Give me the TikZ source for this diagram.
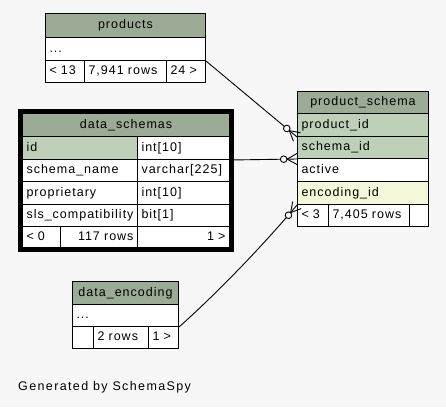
\documentclass[tikz,border=0pt]{standalone}
\usepackage{fontspec}
\setmainfont{Liberation Sans}[LetterSpace=8]
\usepackage{tikz}
\usetikzlibrary{calc,decorations.markings}
\hyphenpenalty=10000
\exhyphenpenalty=10000
\definecolor{bgcol}{HTML}{F7F7F7}
\definecolor{headcol}{HTML}{9BAB96}
\definecolor{keycol}{HTML}{BED1B8}
\definecolor{idxcol}{HTML}{F4F7DA}
\tikzstyle{cell}=[draw, anchor=north west, fill=white, line width=1pt,% one table cell
inner xsep=4pt, inner ysep=0pt, text height=9pt, text depth=3pt, align=left]
\tikzstyle{head}=[cell, fill=headcol, align=center]
\tikzstyle{key}=[cell, fill=keycol]
\tikzstyle{idx}=[cell, fill=idxcol]
\tikzstyle{num}=[cell, align=right]
\tikzstyle{fkey}=[line width=0.9pt, postaction={decorate},% crow foot and open circle at the end
decoration={markings, mark=at position 1 with {
  \draw[line width=0.9pt] (-10pt,0) -- (0,5.5pt) (-10pt,0) -- (0,-5.5pt);
  \draw[line width=0.9pt, fill=bgcol] (-13.3pt,0) circle (3.3pt);}}]
\tikzstyle{selbox}=[draw, line width=4pt]

\begin{document}
\begin{tikzpicture}[x=1pt, y=-1pt, font=\fontsize{12.5}{15}\selectfont]
\path[use as bounding box, fill=bgcol] (0,0) rectangle (446,407);
% products
\node[head, text width=152pt, minimum height=24pt] (p-head) at (45,13) {products};
\node[cell, text width=152pt, minimum height=23pt] (p-dots) at (45,37) {...};
\node[cell, text width=31pt, minimum height=22pt] (p-prev) at (45,60) {< 13};
\node[cell, text width=74pt, minimum height=22pt] (p-rows) at (84,60) {7,941 rows};
\node[cell, text width=31pt, minimum height=22pt] (p-next) at (166,60) {24 >};
% data_schemas
\node[head, text width=199pt, minimum height=23pt] (ds-head) at (22,113) {data\_schemas};
\node[key, text width=107pt, minimum height=23pt] (ds-id) at (22,136) {id};
\node[cell, text width=84pt, minimum height=23pt] (ds-idtype) at (137,136) {int[10]};
\node[cell, text width=107pt, minimum height=22pt] (ds-name) at (22,159) {schema\_name};
\node[cell, text width=84pt, minimum height=22pt] (ds-nametype) at (137,159) {varchar[225]};
\node[cell, text width=107pt, minimum height=23pt] (ds-prop) at (22,181) {proprietary};
\node[cell, text width=84pt, minimum height=23pt] (ds-proptype) at (137,181) {int[10]};
\node[cell, text width=107pt, minimum height=22pt] (ds-sls) at (22,204) {sls\_compatibility};
\node[cell, text width=84pt, minimum height=22pt] (ds-slstype) at (137,204) {bit[1]};
\node[cell, text width=30pt, minimum height=21pt] (ds-prev) at (22,226) {< 0};
\node[num, text width=69pt, minimum height=21pt] (ds-rows) at (60,226) {117 rows};
\node[num, text width=84pt, minimum height=21pt] (ds-next) at (137,226) {1 >};
% product_schema
\node[head, text width=123pt, minimum height=22pt] (ps-head) at (297,91) {product\_schema};
\node[key, text width=123pt, minimum height=23pt] (ps-pid) at (297,113) {product\_id};
\node[key, text width=123pt, minimum height=22pt] (ps-sid) at (297,136) {schema\_id};
\node[cell, text width=123pt, minimum height=23pt] (ps-act) at (297,158) {active};
\node[idx, text width=123pt, minimum height=23pt] (ps-enc) at (297,181) {encoding\_id};
\node[cell, text width=23pt, minimum height=22pt] (ps-prev) at (297,204) {< 3};
\node[cell, text width=73pt, minimum height=22pt] (ps-rows) at (328,204) {7,405 rows};
\node[cell, text width=11pt, minimum height=22pt] (ps-next) at (409,204) {};
% data_encoding
\node[head, text width=98pt, minimum height=23pt] (de-head) at (72,281) {data\_encoding};
\node[cell, text width=98pt, minimum height=22pt] (de-dots) at (72,304) {...};
\node[cell, text width=13pt, minimum height=22pt] (de-prev) at (72,326) {};
\node[cell, text width=47pt, minimum height=22pt] (de-rows) at (93,326) {2 rows};
\node[cell, text width=22pt, minimum height=22pt] (de-next) at (148,326) {1 >};
% relations
\draw[fkey] (p-dots.south east) -- (ps-pid.south west);
\draw[fkey] (ds-idtype.south east) -- (ps-sid.south west);
\draw[fkey] (de-dots.south east) .. controls +(45,-40) and +(-25,30) .. (ps-enc.south west);
\draw[selbox] ($(ds-head.north west)+(-2,-2)$) rectangle ($(ds-next.south east)+(2,2)$);
\node[anchor=west, inner sep=0pt, font=\fontsize{12.5}{15}\selectfont\addfontfeature{LetterSpace=11}] (gen) at (18,387) {Generated by SchemaSpy};
\end{tikzpicture}
\end{document}
